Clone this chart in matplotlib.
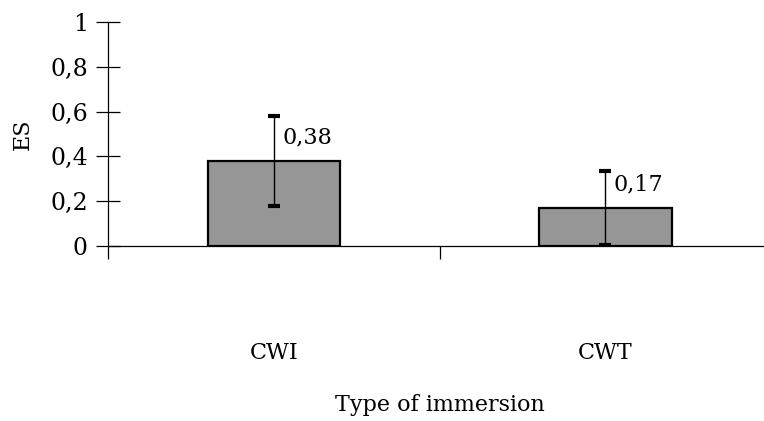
import numpy as np
import matplotlib.pyplot as plt

categories = ["CWI", "CWT"]
es_values = [0.38, 0.17]
es_errors = [0.20, 0.165]
value_labels = ["0,38", "0,17"]
y_ticks = [0, 0.2, 0.4, 0.6, 0.8, 1.0]
y_tick_labels = ["0", "0,2", "0,4", "0,6", "0,8", "1"]

plt.rcParams["font.family"] = ["DejaVu Serif"]

fig = plt.figure(figsize=(7.64, 4.21), dpi=100)
ax = fig.add_axes([0.1414, 0.4157, 0.868, 0.532])

x = np.arange(len(categories))
ax.bar(x, es_values, width=0.4, color="#969696", edgecolor="black", linewidth=1.6, zorder=2)
ax.errorbar(x, es_values, yerr=es_errors, fmt="none", ecolor="black", elinewidth=1.0,
            capsize=4, capthick=3, zorder=3)

for xi, yi, err, lab in zip(x, es_values, es_errors, value_labels):
    ax.text(xi + 0.025, yi + 0.105, lab, fontsize=16, va="center", ha="left")

ax.set_xlim(-0.5, 1.5)
ax.set_ylim(0, 1)
ax.set_yticks(y_ticks)
ax.set_yticklabels(y_tick_labels, fontsize=17)
ax.tick_params(axis="y", direction="inout", length=17, width=0.9, pad=6)

ax.set_xticks([-0.5, 0.5, 1.5])
ax.set_xticklabels([])
ax.set_xticks(x, minor=True)
ax.set_xticklabels(categories, minor=True, fontsize=16)
ax.tick_params(axis="x", which="major", direction="out", length=9, width=0.9)
ax.tick_params(axis="x", which="minor", length=0, pad=69)

for s in ["top", "right"]:
    ax.spines[s].set_visible(False)
ax.spines["left"].set_linewidth(0.9)
ax.spines["bottom"].set_linewidth(0.9)

ax.set_ylabel("ES", fontsize=16, labelpad=12)
ax.set_xlabel("Type of immersion", fontsize=16, labelpad=22)

plt.savefig("out.png", dpi=100)
